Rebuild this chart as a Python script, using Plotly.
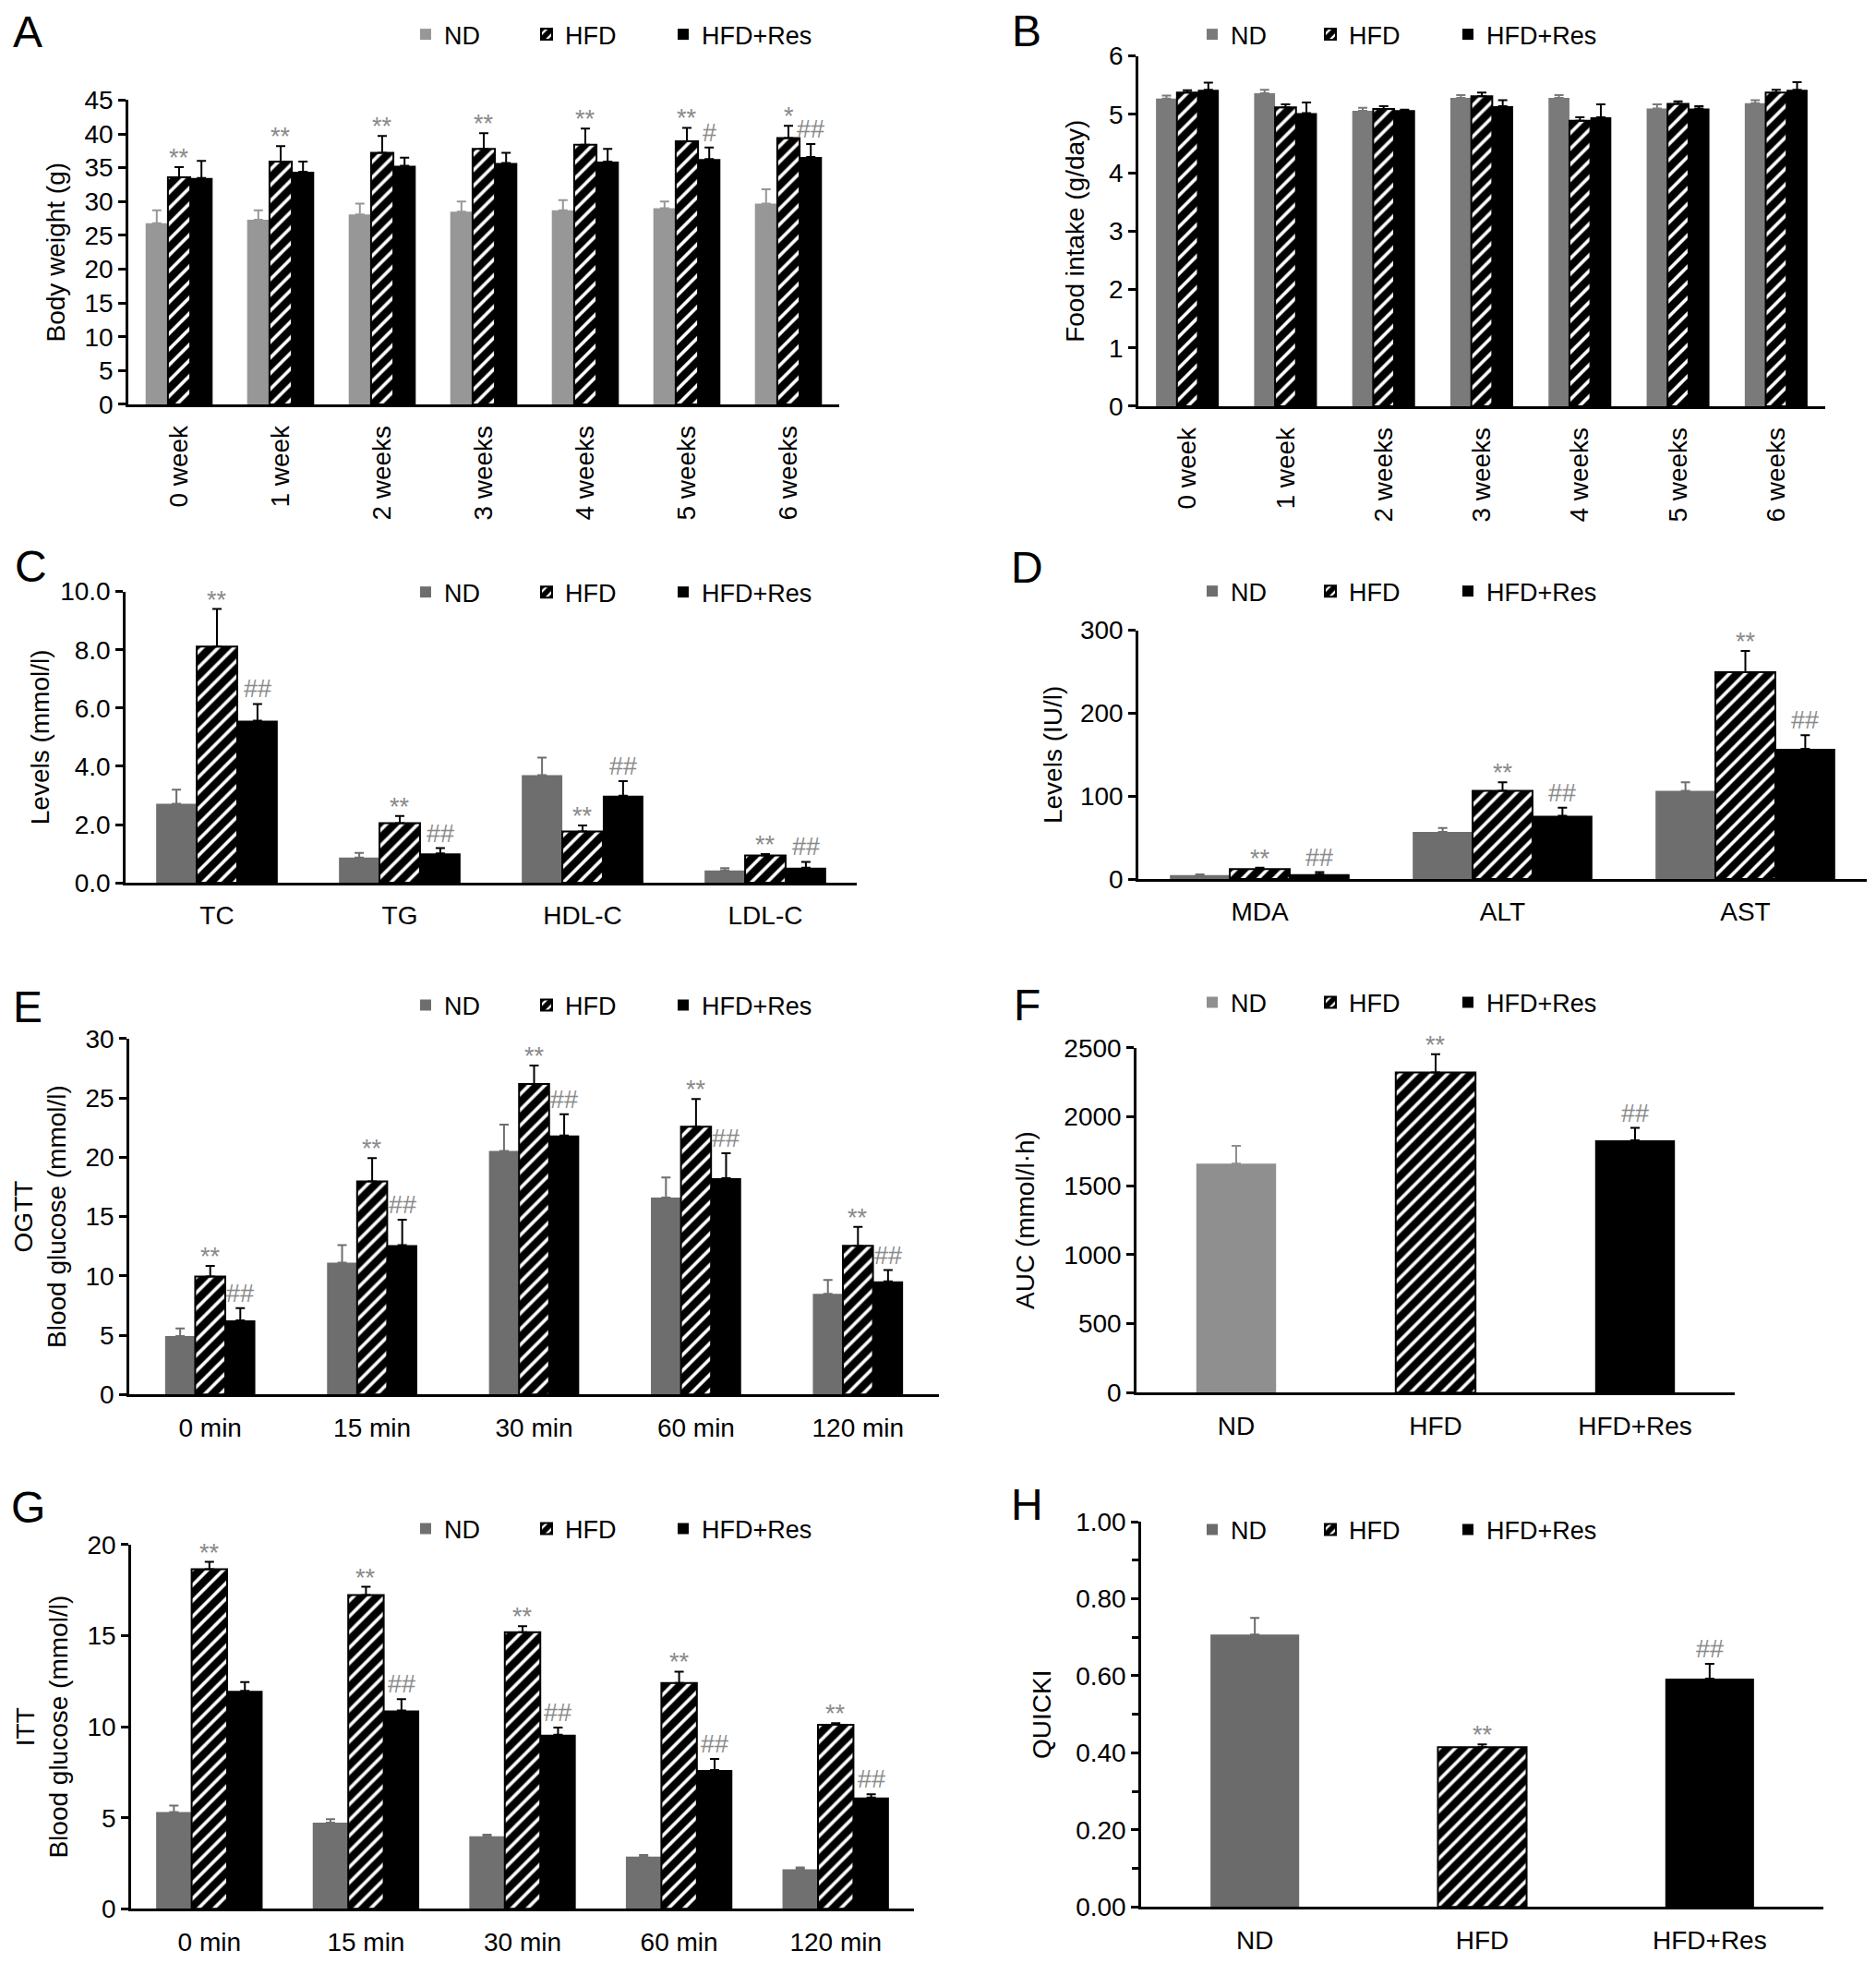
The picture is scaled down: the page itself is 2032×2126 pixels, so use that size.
import plotly.graph_objects as go

W, H = 2032, 2126          # browser window
OFFX = 8                   # page offset of the plot div (body margin)
FW, FH = W - 2 * OFFX, 2140
YSCALE, YOFF = 1.0131, 22.7  # measured page -> screenshot vertical mapping
FONT = "Liberation Sans"

groups = ["ND", "HFD", "HFD+Res"]

# ---------------- A: body weight ----------------
weeks = ["0 week", "1 week", "2 weeks", "3 weeks", "4 weeks", "5 weeks", "6 weeks"]
bw_nd = [26.8, 27.3, 28.1, 28.5, 28.7, 29.0, 29.7]
bw_nd_err = [1.9, 1.4, 1.6, 1.5, 1.5, 1.0, 2.1]
bw_hfd = [33.6, 35.9, 37.2, 37.8, 38.4, 38.9, 39.4]
bw_hfd_err = [1.5, 2.3, 2.5, 2.3, 2.4, 2.0, 1.8]
bw_res = [33.5, 34.4, 35.3, 35.7, 35.9, 36.3, 36.6]
bw_res_err = [2.5, 1.5, 1.2, 1.5, 1.9, 1.7, 1.9]
bw_sig_hfd = ["**", "**", "**", "**", "**", "**", "*"]
bw_sig_res = ["", "", "", "", "", "#", "##"]

# ---------------- B: food intake ----------------
fi_nd = [5.27, 5.36, 5.06, 5.28, 5.28, 5.10, 5.19]
fi_nd_err = [0.05, 0.06, 0.05, 0.05, 0.05, 0.07, 0.05]
fi_hfd = [5.37, 5.12, 5.09, 5.31, 4.89, 5.18, 5.37]
fi_hfd_err = [0.04, 0.05, 0.05, 0.06, 0.06, 0.04, 0.05]
fi_res = [5.42, 5.02, 5.07, 5.14, 4.95, 5.10, 5.42]
fi_res_err = [0.12, 0.18, 0.01, 0.10, 0.22, 0.04, 0.13]

# ---------------- C: lipids ----------------
lipids = ["TC", "TG", "HDL-C", "LDL-C"]
lp_nd = [2.71, 0.87, 3.70, 0.42]
lp_nd_err = [0.49, 0.16, 0.60, 0.08]
lp_hfd = [8.11, 2.05, 1.76, 0.94]
lp_hfd_err = [1.29, 0.24, 0.21, 0.05]
lp_res = [5.57, 1.01, 2.99, 0.52]
lp_res_err = [0.57, 0.18, 0.50, 0.20]
lp_sig_hfd = ["**", "**", "**", "**"]
lp_sig_res = ["##", "##", "##", "##"]

# ---------------- D: MDA / enzymes ----------------
enzymes = ["MDA", "ALT", "AST"]
en_nd = [4.8, 56.8, 106.3]
en_nd_err = [1.0, 4.8, 10.3]
en_hfd = [12.1, 106.3, 249.4]
en_hfd_err = [1.8, 10.3, 25.6]
en_res = [5.9, 76.3, 157.0]
en_res_err = [2.5, 9.9, 16.5]
en_sig_hfd = ["**", "**", "**"]
en_sig_res = ["##", "##", "##"]

# ---------------- E: OGTT ----------------
times = ["0 min", "15 min", "30 min", "60 min", "120 min"]
og_nd = [4.93, 11.11, 20.53, 16.59, 8.49]
og_nd_err = [0.63, 1.48, 2.22, 1.70, 1.17]
og_hfd = [9.94, 17.96, 26.17, 22.58, 12.54]
og_hfd_err = [0.90, 1.97, 1.56, 2.33, 1.59]
og_res = [6.24, 12.59, 21.84, 18.23, 9.53]
og_res_err = [1.04, 2.14, 1.78, 2.10, 0.95]
og_sig_hfd = ["**", "**", "**", "**", "**"]
og_sig_res = ["##", "##", "##", "##", "##"]

# ---------------- F: AUC ----------------
auc = [1661, 2322, 1830]
auc_err = [129, 131, 89]
auc_sig = ["", "**", "##"]

# ---------------- G: ITT ----------------
itt_nd = [5.32, 4.73, 3.99, 2.87, 2.18]
itt_nd_err = [0.35, 0.20, 0.09, 0.09, 0.09]
itt_hfd = [18.65, 17.23, 15.20, 12.41, 10.11]
itt_hfd_err = [0.41, 0.46, 0.32, 0.62, 0.09]
itt_res = [11.97, 10.90, 9.57, 7.62, 6.12]
itt_res_err = [0.48, 0.62, 0.39, 0.62, 0.18]
itt_sig_hfd = ["**", "**", "**", "**", "**"]
itt_sig_res = ["", "##", "##", "##", "##"]

# ---------------- H: QUICKI ----------------
quicki = [0.707, 0.415, 0.593]
quicki_err = [0.043, 0.007, 0.038]
quicki_sig = ["", "**", "##"]

# ======================================================================
SIG_COLOR = "#8a8a8a"
HFD_PATTERN = dict(shape="/", fgcolor="black", bgcolor="white", fgopacity=1, size=12, solidity=0.7)
LEG_LEFT = [459, 590, 738]
LEG_RIGHT = [1311, 1439, 1588]


def fx(px):
    return (px - OFFX) / FW


def fy(py):
    return 1 - (YSCALE * py - YOFF) / FH


# layout geometry (pixels in the 2032x2126 reference)
panels = [
    dict(letter="A", letter_xy=(30, 34), cats=weeks, grouped=True,
         series=[(bw_nd, bw_nd_err, ""), (bw_hfd, bw_hfd_err, bw_sig_hfd), (bw_res, bw_res_err, bw_sig_res)],
         nd_color="#979797", xpx=(139, 909), ypx=(438, 108), yrange=45, dtick=5, fmt="",
         title="Body weight (g)", standoff=13, bar_frac=0.66, tickangle=-90, leg_x=LEG_LEFT, leg_y=37),
    dict(letter="B", letter_xy=(1112, 33), cats=weeks, grouped=True,
         series=[(fi_nd, fi_nd_err, ""), (fi_hfd, fi_hfd_err, ""), (fi_res, fi_res_err, "")],
         nd_color="#7a7a7a", xpx=(1233, 1977), ypx=(440, 60), yrange=6, dtick=1, fmt="",
         title="Food intake (g/day)", standoff=19, bar_frac=0.64, tickangle=-90, leg_x=LEG_RIGHT, leg_y=37),
    dict(letter="C", letter_xy=(33, 614), cats=lipids, grouped=True,
         series=[(lp_nd, lp_nd_err, ""), (lp_hfd, lp_hfd_err, lp_sig_hfd), (lp_res, lp_res_err, lp_sig_res)],
         nd_color="#6e6e6e", xpx=(136, 928), ypx=(957, 641), yrange=10, dtick=2, fmt=".1f",
         title="Levels (mmol/l)", standoff=4, bar_frac=0.665, tickangle=0, leg_x=LEG_LEFT, leg_y=642),
    dict(letter="D", letter_xy=(1112, 615), cats=enzymes, grouped=True,
         series=[(en_nd, en_nd_err, ""), (en_hfd, en_hfd_err, en_sig_hfd), (en_res, en_res_err, en_sig_res)],
         nd_color="#6e6e6e", xpx=(1233, 2022), ypx=(953, 683), yrange=300, dtick=100, fmt="",
         title="Levels (IU/l)", standoff=12, bar_frac=0.74, tickangle=0, leg_x=LEG_RIGHT, leg_y=641),
    dict(letter="E", letter_xy=(30, 1092), cats=times, grouped=True,
         series=[(og_nd, og_nd_err, ""), (og_hfd, og_hfd_err, og_sig_hfd), (og_res, og_res_err, og_sig_res)],
         nd_color="#6e6e6e", xpx=(140, 1017), ypx=(1512, 1126), yrange=30, dtick=5, fmt="",
         title="OGTT<br>Blood glucose (mmol/l)", standoff=13, bar_frac=0.557, tickangle=0, leg_x=LEG_LEFT, leg_y=1090),
    dict(letter="F", letter_xy=(1112, 1090), cats=groups, grouped=False,
         series=[auc, auc_err, auc_sig],
         nd_color="#8f8f8f", xpx=(1231, 1879), ypx=(1510, 1136), yrange=2500, dtick=500, fmt="",
         title="AUC (mmol/l·h)", standoff=24, bar_frac=0.40, tickangle=0, leg_x=LEG_RIGHT, leg_y=1087),
    dict(letter="G", letter_xy=(30, 1634), cats=times, grouped=True,
         series=[(itt_nd, itt_nd_err, ""), (itt_hfd, itt_hfd_err, itt_sig_hfd), (itt_res, itt_res_err, itt_sig_res)],
         nd_color="#707070", xpx=(142, 990), ypx=(2070, 1675), yrange=20, dtick=5, fmt="",
         title="ITT<br>Blood glucose (mmol/l)", standoff=13, bar_frac=0.68, tickangle=0, leg_x=LEG_LEFT, leg_y=1658),
    dict(letter="H", letter_xy=(1112, 1631), cats=groups, grouped=False,
         series=[quicki, quicki_err, quicki_sig],
         nd_color="#6b6b6b", xpx=(1236, 1975), ypx=(2068, 1650), yrange=1.0, dtick=0.2, fmt=".2f",
         title="QUICKI", standoff=19, bar_frac=0.39, tickangle=0, leg_x=LEG_RIGHT, leg_y=1659),
]

fig = go.Figure()
layout = dict(
    width=FW, height=FH,
    margin=dict(l=0, r=0, t=0, b=0),
    paper_bgcolor="white", plot_bgcolor="white",
    barmode="overlay", showlegend=True,
    font=dict(family=FONT, color="black", size=28),
    annotations=[],
)


def styles(nd_color):
    return [
        dict(marker=dict(color=nd_color, line=dict(width=0)), ecolor=nd_color),
        dict(marker=dict(color="white", pattern=HFD_PATTERN, line=dict(color="black", width=2)), ecolor="black"),
        dict(marker=dict(color="black", line=dict(width=0)), ecolor="black"),
    ]


def sig_annotation(x, y, text, xa, ya):
    shift = -7 if "*" in text else -1
    return dict(x=x, y=y, xref=xa, yref=ya, text=text, showarrow=False,
                yanchor="bottom", yshift=shift,
                font=dict(size=27, color=SIG_COLOR, family=FONT))


for k, p in enumerate(panels, start=1):
    xa = "x" if k == 1 else f"x{k}"
    ya = "y" if k == 1 else f"y{k}"
    n = len(p["cats"])
    st = styles(p["nd_color"])
    legs = []
    for j in range(3):
        idx = 3 * (k - 1) + j + 1
        legs.append("legend" if idx == 1 else f"legend{idx}")

    if p["grouped"]:
        w = p["bar_frac"] / 3.0
        for j, (vals, errs, sigs) in enumerate(p["series"]):
            off = -1.5 * w + j * w
            fig.add_trace(go.Bar(
                x=list(range(n)), y=vals, name=groups[j], legend=legs[j], showlegend=True,
                xaxis=xa, yaxis=ya, width=w, offset=off,
                marker=st[j]["marker"],
                error_y=dict(type="data", array=errs, arrayminus=[0] * n, symmetric=False,
                             color=st[j]["ecolor"], thickness=2, width=5),
                hoverinfo="skip",
            ))
            if sigs:
                for i, s in enumerate(sigs):
                    if s:
                        layout["annotations"].append(
                            sig_annotation(i + off + w / 2, vals[i] + errs[i], s, xa, ya))
    else:
        vals, errs, sigs = p["series"]
        w = p["bar_frac"]
        for j in range(3):
            fig.add_trace(go.Bar(
                x=[j], y=[vals[j]], name=groups[j], legend=legs[j], showlegend=True,
                xaxis=xa, yaxis=ya, width=w, offset=-w / 2,
                marker=st[j]["marker"],
                error_y=dict(type="data", array=[errs[j]], arrayminus=[0], symmetric=False,
                             color=st[j]["ecolor"], thickness=2, width=5),
                hoverinfo="skip",
            ))
            if sigs[j]:
                layout["annotations"].append(sig_annotation(j, vals[j] + errs[j], sigs[j], xa, ya))

    x0, x1 = p["xpx"]
    yb, yt = p["ypx"]
    layout["xaxis" if k == 1 else f"xaxis{k}"] = dict(
        domain=[fx(x0), fx(x1)], anchor=ya, range=[-0.5, n - 0.5],
        tickmode="array", tickvals=list(range(n)), ticktext=p["cats"],
        tickangle=p["tickangle"], ticks="", showline=True, linecolor="black", linewidth=2.5,
        showgrid=False, zeroline=False, tickfont=dict(size=28), ticklabelstandoff=9,
        fixedrange=True,
    )
    ydict = dict(
        domain=[fy(yb), fy(yt)], anchor=xa, range=[0, p["yrange"]],
        dtick=p["dtick"], tick0=0, tickformat=p["fmt"],
        ticks="outside", ticklen=8, tickwidth=2.5, tickcolor="black",
        showline=True, linecolor="black", linewidth=2.5,
        showgrid=False, zeroline=False, tickfont=dict(size=28),
        title=dict(text=p["title"], font=dict(size=28), standoff=p["standoff"]),
        fixedrange=True,
    )
    if p["letter"] == "H":
        ydict["minor"] = dict(dtick=0.1, ticks="outside", ticklen=7, tickwidth=2.5, tickcolor="black")
    layout["yaxis" if k == 1 else f"yaxis{k}"] = ydict

    for j in range(3):
        layout[legs[j]] = dict(
            orientation="h", x=fx(p["leg_x"][j] - 18), y=fy(p["leg_y"]),
            xanchor="left", yanchor="middle",
            font=dict(size=27, family=FONT), bgcolor="rgba(0,0,0,0)", borderwidth=0,
        )

    lxx, lyy = p["letter_xy"]
    layout["annotations"].append(dict(
        x=fx(lxx), y=fy(lyy), xref="paper", yref="paper", text=p["letter"],
        showarrow=False, xanchor="center", yanchor="middle",
        font=dict(size=48, family=FONT, color="black")))

fig.update_layout(**layout)
fig.write_html("out.html")
